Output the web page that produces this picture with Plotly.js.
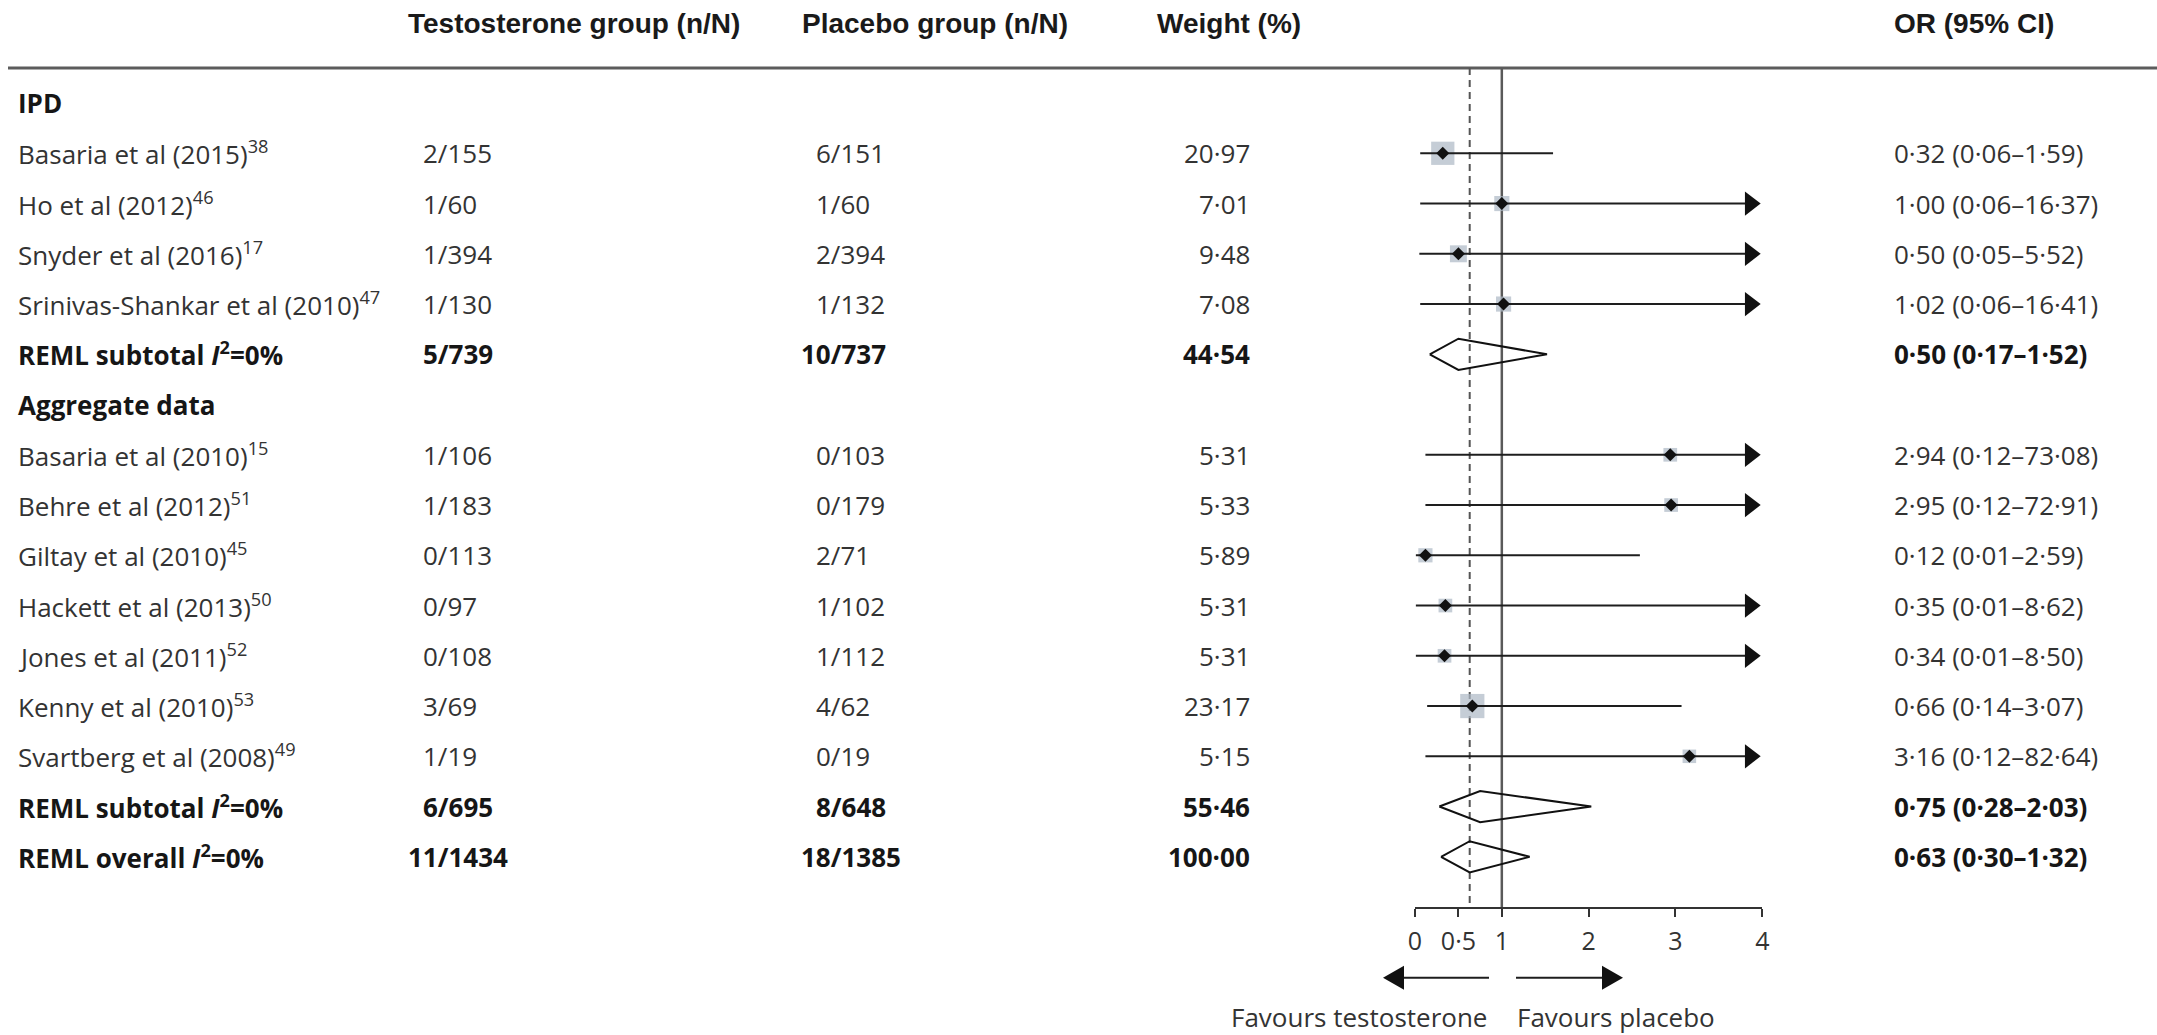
<!DOCTYPE html>
<html><head><meta charset="utf-8">
<script src="https://cdn.plot.ly/plotly-3.0.1.min.js"></script>
<style>html,body{margin:0;padding:0;background:#fff;} #chart{width:2157px;height:1035px;}</style>
</head><body><div id="chart"></div>
<script>
// ---------------- data ----------------
const groupNames = ['IPD', 'Aggregate data'];

const ipdStudies = ['Basaria et al (2015)<sup>38</sup>', 'Ho et al (2012)<sup>46</sup>', 'Snyder et al (2016)<sup>17</sup>', 'Srinivas-Shankar et al (2010)<sup>47</sup>'];
const ipdTestosterone = ['2/155', '1/60', '1/394', '1/130'];
const ipdPlacebo = ['6/151', '1/60', '2/394', '1/132'];
const ipdWeight = [20.97, 7.01, 9.48, 7.08];
const ipdOR = [0.32, 1.00, 0.50, 1.02];
const ipdLower = [0.06, 0.06, 0.05, 0.06];
const ipdUpper = [1.59, 16.37, 5.52, 16.41];

const aggStudies = ['Basaria et al (2010)<sup>15</sup>', 'Behre et al (2012)<sup>51</sup>', 'Giltay et al (2010)<sup>45</sup>', 'Hackett et al (2013)<sup>50</sup>', 'Jones et al (2011)<sup>52</sup>', 'Kenny et al (2010)<sup>53</sup>', 'Svartberg et al (2008)<sup>49</sup>'];
const aggTestosterone = ['1/106', '1/183', '0/113', '0/97', '0/108', '3/69', '1/19'];
const aggPlacebo = ['0/103', '0/179', '2/71', '1/102', '1/112', '4/62', '0/19'];
const aggWeight = [5.31, 5.33, 5.89, 5.31, 5.31, 23.17, 5.15];
const aggOR = [2.94, 2.95, 0.12, 0.35, 0.34, 0.66, 3.16];
const aggLower = [0.12, 0.12, 0.01, 0.01, 0.01, 0.14, 0.12];
const aggUpper = [73.08, 72.91, 2.59, 8.62, 8.50, 3.07, 82.64];

// summaries: IPD subtotal, aggregate subtotal, overall
const summaryLabels = ['REML subtotal <i>I</i><sup>2</sup>=0%', 'REML subtotal <i>I</i><sup>2</sup>=0%', 'REML overall <i>I</i><sup>2</sup>=0%'];
const summaryTestosterone = ['5/739', '6/695', '11/1434'];
const summaryPlacebo = ['10/737', '8/648', '18/1385'];
const summaryWeight = [44.54, 55.46, 100.00];
const summaryOR = [0.50, 0.75, 0.63];
const summaryLower = [0.17, 0.28, 0.30];
const summaryUpper = [1.52, 2.03, 1.32];

const headers = ['Testosterone group (n/N)', 'Placebo group (n/N)', 'Weight (%)', 'OR (95% CI)'];
const axisTicks = [0, 0.5, 1, 2, 3, 4];
const favourLabels = ['Favours testosterone', 'Favours placebo'];

// ---------------- layout constants ----------------
const W = 2157, H = 1035;
const ROW0 = 153.3, ROWH = 50.25;          // px of first study row, px per row
const AX_X0 = 1415, AX_X1 = 1762.3;        // px of axis 0 and 4
const XMAX = 4;
const AXIS_PX = 907.7, RULE_PX = 68, HEADER_PX = 23;
const pxPerUnit = (AX_X1 - AX_X0) / XMAX;
const rowOfPx = p => (p - ROW0) / ROWH;
const px = x => x / W;
const py = y => 1 - y / H;

const FONT = '"Open Sans", "Noto Sans", sans-serif';
const HFONT = '"Liberation Sans", Arial, sans-serif';
const TXT = '#333333', BTXT = '#161616';
const FS = 26;
const DIGIT_W = 0.572 * FS;

const fmt = v => v.toFixed(2).replace('.', '\u00B7');
const orText = (o, l, u) => fmt(o) + ' (' + fmt(l) + '\u2013' + fmt(u) + ')';

// ---------------- build rows ----------------
const rows = [];
let r = -1;
function addGroup(gi, names, te, pl, wt, or, lo, hi) {
  rows.push({type: 'header', label: groupNames[gi], row: r++});
  for (let i = 0; i < names.length; i++) {
    rows.push({type: 'study', label: names[i], te: te[i], pl: pl[i], w: wt[i], or: or[i], lo: lo[i], hi: hi[i], row: r++});
  }
}
function addSummary(si) {
  rows.push({type: 'summary', label: summaryLabels[si], te: summaryTestosterone[si], pl: summaryPlacebo[si], w: summaryWeight[si], or: summaryOR[si], lo: summaryLower[si], hi: summaryUpper[si], row: r++});
}
addGroup(0, ipdStudies, ipdTestosterone, ipdPlacebo, ipdWeight, ipdOR, ipdLower, ipdUpper);
addSummary(0);
addGroup(1, aggStudies, aggTestosterone, aggPlacebo, aggWeight, aggOR, aggLower, aggUpper);
addSummary(1);
addSummary(2);

const studies = rows.filter(d => d.type === 'study');
const summaries = rows.filter(d => d.type === 'summary');

// ---------------- traces ----------------
const ARROW_SIZE = 21;
const arrowBack = (ARROW_SIZE / 2) * 2 / Math.sqrt(3) / pxPerUnit; // tip offset in data units
const ciX = [], ciY = [];
studies.forEach(d => {
  ciX.push(d.lo, d.hi > XMAX ? XMAX - arrowBack : d.hi, null);
  ciY.push(d.row, d.row, null);
});
const clipped = studies.filter(d => d.hi > XMAX);

const DH = 0.31; // diamond half-height in rows
const dX = [], dY = [];
summaries.forEach(d => {
  dX.push(d.lo, d.or, d.hi, d.or, d.lo, null);
  dY.push(d.row, d.row - DH, d.row, d.row + DH, d.row, null);
});

const traces = [
  {x: studies.map(d => d.or), y: studies.map(d => d.row), mode: 'markers', type: 'scatter', cliponaxis: false,
   marker: {symbol: 'square', size: studies.map(d => 4 + 4.2 * Math.sqrt(d.w)), color: '#adb8c4', line: {width: 0}}, hoverinfo: 'skip'},
  {x: ciX, y: ciY, mode: 'lines', type: 'scatter', cliponaxis: false, line: {color: '#1e1e1e', width: 2}, hoverinfo: 'skip'},
  {x: clipped.map(() => XMAX - arrowBack), y: clipped.map(d => d.row), mode: 'markers', type: 'scatter', cliponaxis: false,
   marker: {symbol: 'triangle-right', size: ARROW_SIZE, color: '#111', line: {width: 0}}, hoverinfo: 'skip'},
  {x: studies.map(d => d.or), y: studies.map(d => d.row), mode: 'markers', type: 'scatter', cliponaxis: false,
   marker: {symbol: 'diamond', size: 10, color: '#111', line: {width: 0}}, hoverinfo: 'skip'},
  {x: dX, y: dY, mode: 'lines', type: 'scatter', cliponaxis: false, line: {color: '#111', width: 2}, hoverinfo: 'skip'}
];

// ---------------- annotations ----------------
const ann = [];
const COL_LABEL = 16.5, COL_TE_SLASH = 436.5, COL_PL_SLASH = 829.5, COL_W_RIGHT = 1251, COL_OR = 1893;
const HEAD_X = [407, 800.6, 1155.5, 1893];

function text(t, xpx, row, anchor, bold) {
  ann.push({text: bold ? '<b>' + t + '</b>' : t, x: px(xpx), xref: 'paper', y: row, yref: 'y',
    xanchor: anchor, yanchor: 'middle', showarrow: false, borderpad: 0,
    font: {family: FONT, size: FS, color: bold ? BTXT : TXT}});
}
// n/N aligned on the slash (tabular digits)
function frac(t, slashPx, row, bold) {
  const k = t.indexOf('/');
  text(t, slashPx - k * DIGIT_W, row, 'left', bold);
}

headers.forEach((h, i) => {
  ann.push({text: '<b>' + h + '</b>', x: px(HEAD_X[i]), xref: 'paper', y: rowOfPx(HEADER_PX), yref: 'y',
    xanchor: 'left', yanchor: 'middle', showarrow: false, borderpad: 0,
    font: {family: HFONT, size: 28, color: '#1a1a1a'}});
});

rows.forEach(d => {
  if (d.type === 'header') { text(d.label, COL_LABEL, d.row, 'left', true); return; }
  const b = d.type === 'summary';
  text(d.label, COL_LABEL, d.row, 'left', b);
  frac(d.te, COL_TE_SLASH, d.row, b);
  frac(d.pl, COL_PL_SLASH, d.row, b);
  text(fmt(d.w), COL_W_RIGHT, d.row, 'right', b);
  text(orText(d.or, d.lo, d.hi), COL_OR, d.row, 'left', b);
});

// favours labels
const FAV_Y = 1017;
ann.push({text: favourLabels[0], x: px(1488), xref: 'paper', y: py(FAV_Y), yref: 'paper', xanchor: 'right', yanchor: 'middle',
  showarrow: false, borderpad: 0, font: {family: FONT, size: 26, color: TXT}});
ann.push({text: favourLabels[1], x: px(1516), xref: 'paper', y: py(FAV_Y), yref: 'paper', xanchor: 'left', yanchor: 'middle',
  showarrow: false, borderpad: 0, font: {family: FONT, size: 26, color: TXT}});

// ---------------- shapes ----------------
const shapes = [];
shapes.push({type: 'line', xref: 'paper', yref: 'y', x0: px(8), x1: 1, y0: rowOfPx(RULE_PX), y1: rowOfPx(RULE_PX),
  line: {color: '#5c5c5c', width: 3}, layer: 'below'});
shapes.push({type: 'line', xref: 'x', yref: 'y', x0: 1, x1: 1, y0: rowOfPx(RULE_PX), y1: rowOfPx(AXIS_PX),
  line: {color: '#5a5a5a', width: 2.5}, layer: 'below'});
shapes.push({type: 'line', xref: 'x', yref: 'y', x0: summaryOR[2], x1: summaryOR[2], y0: rowOfPx(RULE_PX), y1: rowOfPx(AXIS_PX),
  line: {color: '#555', width: 2, dash: '7px,5px'}, layer: 'below'});

// favours arrows
const AR_Y = 977.7, HEAD_L = 21, HEAD_H = 12;
function arrowShape(tipPx, tailPx, dir) {
  const back = tipPx - dir * HEAD_L;
  shapes.push({type: 'line', xref: 'paper', yref: 'paper', x0: px(tailPx), x1: px(back), y0: py(AR_Y), y1: py(AR_Y),
    line: {color: '#1e1e1e', width: 2}});
  shapes.push({type: 'path', xref: 'paper', yref: 'paper',
    path: 'M' + px(tipPx) + ',' + py(AR_Y) + ' L' + px(back) + ',' + py(AR_Y - HEAD_H) + ' L' + px(back) + ',' + py(AR_Y + HEAD_H) + ' Z',
    fillcolor: '#111', line: {width: 0}});
}
arrowShape(1383, 1489, -1);
arrowShape(1623, 1516, 1);

const layout = {
  width: W, height: H,
  margin: {l: 0, r: 0, t: 0, b: 0, pad: 0},
  paper_bgcolor: '#fff', plot_bgcolor: 'rgba(0,0,0,0)',
  showlegend: false,
  xaxis: {domain: [px(AX_X0), px(AX_X1)], range: [0, XMAX], anchor: 'free', position: py(AXIS_PX),
    showline: true, linecolor: '#333', linewidth: 2, ticks: 'outside', ticklen: 8, tickwidth: 2, tickcolor: '#333',
    tickvals: axisTicks, ticktext: axisTicks.map(v => String(v).replace('.', '\u00B7')),
    ticklabelstandoff: 3,
    tickfont: {family: FONT, size: 25, color: TXT}, showgrid: false, zeroline: false, fixedrange: true},
  yaxis: {domain: [0, 1], range: [rowOfPx(H), rowOfPx(0)], visible: false, showgrid: false, zeroline: false, fixedrange: true},
  shapes: shapes,
  annotations: ann
};

Plotly.newPlot('chart', traces, layout, {staticPlot: true, displayModeBar: false});
</script>
</body></html>
